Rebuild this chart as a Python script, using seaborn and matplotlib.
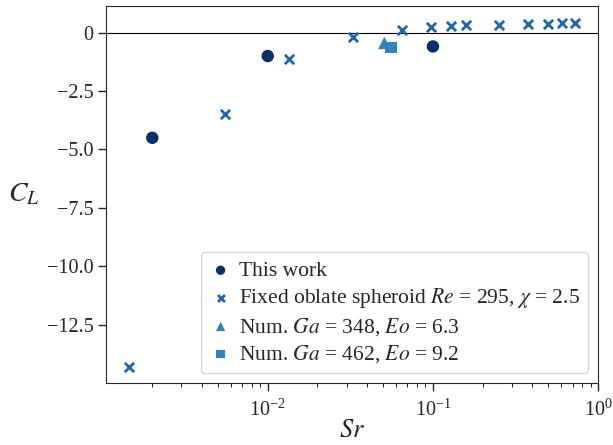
import matplotlib
matplotlib.use("Agg")
import matplotlib.pyplot as plt
from matplotlib.ticker import FuncFormatter
import seaborn as sns

# This work
sr_this = [0.002, 0.01, 0.1]
cl_this = [-4.5, -1.0, -0.59]

# Fixed oblate spheroid Re = 295, chi = 2.5
sr_fixed = [0.00144, 0.0055, 0.0135, 0.0329, 0.0647, 0.0968, 0.1285,
            0.158, 0.252, 0.376, 0.494, 0.603, 0.728]
cl_fixed = [-14.29, -3.5, -1.13, -0.2, 0.13, 0.23, 0.27,
            0.32, 0.34, 0.37, 0.37, 0.40, 0.42]

# Numerical
sr_num1 = [0.0508]
cl_num1 = [-0.44]
sr_num2 = [0.0558]
cl_num2 = [-0.65]

labels = [
    "This work",
    r"Fixed oblate spheroid $Re$ = 295, $\chi$ = 2.5",
    r"Num. $Ga$ = 348, $Eo$ = 6.3",
    r"Num. $Ga$ = 462, $Eo$ = 9.2",
]

sns.set_style("ticks")
plt.rcParams["font.family"] = ["Liberation Serif", "DejaVu Serif"]
plt.rcParams["mathtext.fontset"] = "stix"

fig = plt.figure(figsize=(6.13, 4.45), dpi=100)
ax = fig.add_axes([0.173, 0.139, 0.8027, 0.848])

ax.axhline(0, color="black", lw=0.8, zorder=0)

sns.scatterplot(x=sr_this, y=cl_this, ax=ax, marker="o", s=80,
                color="#08306b", edgecolor="none", label=labels[0])
sns.scatterplot(x=sr_fixed, y=cl_fixed, ax=ax, marker="x", s=45,
                color="#2166ac", linewidth=2, label=labels[1])
sns.scatterplot(x=sr_num1, y=cl_num1, ax=ax, marker="^", s=80,
                color="#3182bd", edgecolor="none", label=labels[2])
sns.scatterplot(x=sr_num2, y=cl_num2, ax=ax, marker="s", s=65,
                color="#3182bd", edgecolor="none", label=labels[3])

ax.set_xscale("log")
ax.set_xlim(1.05e-3, 1.0)
ax.set_ylim(-15.0, 1.15)
ax.set_yticks([0, -2.5, -5.0, -7.5, -10.0, -12.5])
ax.yaxis.set_major_formatter(FuncFormatter(
    lambda v, p: "0" if v == 0 else f"{v:.1f}".replace("-", "\u2212")))

ax.tick_params(which="major", length=5.5, width=1.0, labelsize=14.5)
ax.tick_params(axis="x", which="major", pad=6)
ax.tick_params(which="minor", length=3, width=0.8)

ax.set_xlabel("$Sr$", fontsize=19, labelpad=0)
ax.xaxis.set_label_coords(0.5, -0.098)
ax.set_ylabel("$C_L$", fontsize=20, rotation=0, ha="right", va="center")
ax.yaxis.set_label_coords(-0.135, 0.5)

ax.legend(loc="lower right", fontsize=15.5, handletextpad=0.35,
          borderaxespad=0.45, labelspacing=0.25, handlelength=1.0,
          markerscale=0.75)

fig.savefig("out.png", dpi=100)
